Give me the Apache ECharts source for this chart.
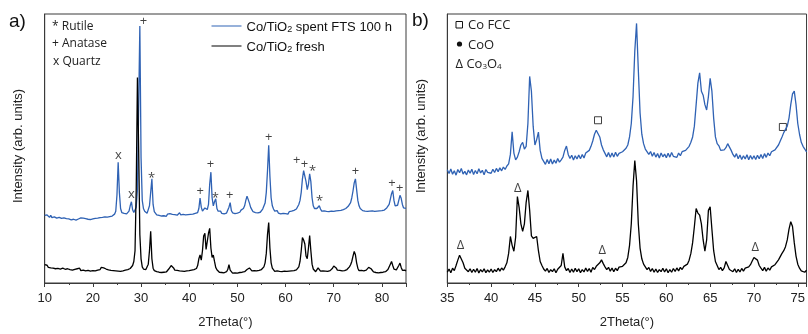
<!DOCTYPE html>
<html>
<head>
<meta charset="utf-8">
<script src="https://cdn.jsdelivr.net/npm/echarts@6/dist/echarts.min.js"></script>
<style>
html,body{margin:0;padding:0;background:#fff;}
#chart{width:808px;height:334px;}
</style>
</head>
<body>
<div id="chart"></div>
<script>
// ---- Panel a): full scan 10–85° (step 0.25°) ----
const startA = 10, stepA = 0.25;
// spent catalyst, intensity above its own baseline
const spentA = [
  0.4,-0.2,0.6,0.1,-0.3,0.5,-0.4,0.2,-0.1,0.3,-0.6,0.1,-0.3,0.2,-0.7,-0.1,-0.5,0.0,-0.8,-0.2,
  -0.9,-0.4,-1.2,-0.6,-1.0,-0.3,-1.3,-0.7,-0.9,-1.4,-0.5,-1.1,-0.6,-1.2,-0.8,-0.4,-1.0,-0.6,-1.1,-0.5,
  -0.9,-0.3,-0.7,-0.2,-0.6,0.0,-0.4,0.2,-0.3,0.3,-0.1,0.4,-0.2,0.3,0.0,0.5,0.2,0.6,0.9,2.0,
  8.0,20.2,9.0,3.0,1.5,0.8,1.2,0.6,1.0,1.3,2.0,4.0,5.5,2.5,1.5,2.0,3.5,10.0,40.0,70.8,
  22.0,6.0,3.0,2.0,1.5,1.2,1.8,4.0,9.0,14.0,4.5,1.8,1.2,0.6,1.0,0.4,0.8,0.2,0.7,0.3,
  0.6,0.1,0.9,1.6,1.1,0.4,0.8,0.2,0.7,1.2,0.5,0.9,1.4,0.6,0.3,0.8,0.2,0.6,0.1,0.7,
  0.3,0.8,0.2,0.9,0.5,1.2,0.8,1.5,3.0,6.9,3.5,2.0,2.5,3.2,3.0,2.6,4.5,12.0,16.5,7.0,
  4.0,5.5,6.6,3.0,2.0,1.4,2.0,1.2,1.8,1.0,1.6,1.3,2.0,3.5,5.2,2.2,1.4,1.9,1.1,1.7,
  1.3,2.0,1.6,2.4,2.2,3.0,4.0,6.0,7.6,7.2,5.0,3.4,2.6,1.8,2.3,1.5,2.0,1.4,2.1,1.6,
  2.2,2.8,3.5,5.0,9.0,17.0,26.5,15.0,7.0,4.0,2.8,2.0,1.6,2.2,1.3,1.9,1.0,1.7,1.2,1.8,
  1.1,1.6,0.9,1.8,1.3,2.0,1.5,2.3,2.0,2.8,3.5,4.5,6.0,9.0,14.0,17.1,15.0,13.0,10.0,12.0,
  15.9,13.0,7.0,4.0,3.0,2.5,3.0,3.5,4.0,2.8,2.0,1.5,2.1,1.4,1.9,1.2,1.8,1.3,2.0,1.4,
  1.9,1.3,2.1,1.5,2.2,1.6,2.3,2.0,2.6,2.2,3.0,3.3,3.8,4.5,5.2,7.0,9.5,12.5,14.0,10.0,
  6.0,4.0,3.0,2.6,2.2,2.8,2.0,2.5,1.9,2.4,2.0,2.7,2.1,2.5,1.9,2.4,2.0,2.6,2.1,2.5,
  2.2,2.8,2.4,3.0,3.2,3.8,4.5,6.5,8.5,9.7,6.0,4.0,3.5,4.2,6.0,7.9,6.8,4.5,3.2,2.8,
  3.0
];
// fresh catalyst
const freshA = [
  6.8,6.1,6.6,5.8,6.4,5.6,6.2,5.5,6.0,5.3,5.9,5.4,6.1,5.2,5.8,5.5,6.0,5.1,5.7,5.3,
  5.6,5.0,5.5,4.8,5.4,5.1,4.7,5.3,4.9,5.5,4.6,5.2,4.8,5.0,4.5,5.1,4.7,5.2,4.4,4.9,
  4.6,5.0,4.5,5.1,4.8,5.4,5.0,5.8,5.3,5.6,4.9,5.2,4.6,4.9,4.3,4.7,4.2,4.6,4.0,4.5,
  3.9,4.4,3.8,4.3,4.0,4.5,4.1,4.8,4.4,5.0,4.7,5.4,5.8,6.5,8.0,12.0,35.0,76.4,50.0,18.0,
  9.0,6.0,5.2,4.8,5.0,5.6,7.0,12.0,19.2,9.0,5.5,4.6,4.9,4.2,4.7,4.0,4.5,3.9,4.4,4.0,
  4.5,4.1,4.8,5.2,5.8,6.5,6.8,5.6,4.8,4.3,4.7,4.0,4.5,3.9,4.4,3.8,4.3,3.9,4.5,4.0,
  4.6,4.2,4.8,4.4,5.0,4.7,5.4,6.5,9.0,10.4,8.5,12.0,17.5,18.5,12.5,13.0,18.5,20.3,13.0,9.5,
  10.4,8.0,5.8,4.9,4.4,4.0,4.5,3.9,4.3,3.8,4.4,4.2,5.0,6.8,4.8,4.1,3.7,4.3,3.8,4.2,
  3.7,4.3,3.9,4.4,4.0,4.6,4.2,4.8,5.0,5.4,5.6,5.0,4.5,4.1,4.6,4.0,4.5,4.1,4.7,4.4,
  5.0,5.4,6.0,7.5,11.0,18.0,22.5,13.0,7.5,5.5,4.8,4.3,4.0,4.5,3.8,4.3,3.7,4.2,3.8,4.4,
  3.9,4.3,3.8,4.4,4.0,4.5,4.1,4.6,4.3,4.9,5.2,6.0,8.0,12.0,16.9,16.0,14.5,10.0,9.0,13.0,
  17.6,12.0,7.0,5.2,4.6,4.2,4.8,5.6,5.0,4.4,4.0,4.5,3.9,4.4,3.8,4.3,4.0,4.6,4.8,5.5,
  6.3,6.8,5.6,4.8,4.3,4.7,4.1,4.5,4.0,4.6,4.4,5.0,5.3,6.0,6.8,8.0,10.0,11.7,10.5,7.5,
  5.5,4.6,4.2,4.7,4.1,4.5,4.3,4.8,5.2,5.8,6.0,5.3,4.6,4.1,4.5,3.9,4.4,3.8,4.3,3.9,
  4.4,4.0,4.5,4.2,4.8,5.0,5.6,7.0,8.0,6.5,5.2,4.6,4.9,5.3,6.5,7.4,5.8,4.7,4.3,4.8,
  4.5
];
const spentOffsetA = 24.7;

// ---- Panel b): detail 35–76° (step 0.2°) ----
const startB = 35, stepB = 0.2;
const spentB = [
  0.8,-0.6,1.1,-0.9,0.4,-1.2,0.9,-0.3,1.3,-0.8,0.2,-1.1,0.7,-0.5,1.0,-1.0,0.5,-0.7,1.2,-0.4,0.6,-1.1,0.9,-0.2,0.4,
  -0.5,1.0,-0.2,1.3,0.1,1.5,0.4,1.8,0.9,2.2,3.0,6.5,14.9,7.0,4.5,5.5,7.5,10.0,11.0,8.5,9.5,18.0,35.5,30.0,17.0,
  10.0,12.0,14.8,8.0,5.0,4.5,2.8,4.6,3.0,4.8,2.9,4.4,3.2,5.0,3.6,4.5,5.5,8.0,9.6,6.5,5.0,6.2,4.4,6.0,4.8,
  6.3,4.9,6.5,5.2,7.0,6.4,8.0,9.5,11.5,14.0,15.5,16.2,13.0,10.0,8.2,7.5,5.6,7.2,5.4,7.0,5.5,7.3,5.8,6.9,6.2,
  7.5,7.0,8.8,10.0,13.0,18.0,28.0,45.0,55.2,38.0,22.0,14.0,10.5,8.5,7.8,6.5,7.6,5.8,7.2,5.5,6.8,5.2,7.0,5.6,6.6,
  5.3,6.9,5.5,7.2,5.8,6.5,5.4,7.0,6.0,7.5,6.8,8.0,8.5,9.5,11.0,13.0,17.0,25.0,33.0,36.8,30.0,28.5,25.0,23.0,28.0,
  34.8,30.0,20.0,13.0,10.5,9.7,8.0,7.5,8.2,9.0,10.5,11.0,8.0,6.5,5.5,6.8,4.9,6.3,4.6,6.0,4.8,6.4,4.5,6.1,4.7,
  6.0,4.6,6.2,4.9,6.5,5.0,6.8,5.4,7.0,6.0,7.5,7.0,8.2,8.6,10.0,11.5,13.0,14.6,15.0,17.0,20.0,25.0,29.0,30.0,25.0,
  18.0,14.0,11.0,9.5,8.5,7.4
];
const freshB = [
  4.0,5.2,3.8,5.5,4.6,6.5,8.5,10.3,10.0,7.5,5.5,5.8,4.2,5.3,3.9,5.1,4.0,5.4,3.7,5.0,4.1,5.3,3.8,4.9,4.0,
  5.2,3.9,5.0,4.2,5.5,4.4,5.6,4.8,6.0,7.5,11.0,17.3,14.0,11.8,17.0,32.1,28.0,22.0,19.2,22.0,30.0,34.4,27.0,17.5,16.6,
  16.5,17.3,12.0,8.0,6.5,5.2,4.4,5.4,3.9,5.0,4.2,5.3,3.8,5.1,4.5,6.5,11.0,6.0,4.6,5.4,3.9,5.2,4.0,5.5,4.2,
  5.3,3.8,5.0,4.1,5.6,4.3,5.4,4.0,5.8,5.0,6.2,6.8,7.5,8.6,7.2,6.0,5.0,5.8,4.4,5.6,4.2,5.5,4.6,5.9,5.2,
  6.2,6.0,7.5,9.5,14.0,22.0,36.0,45.5,38.0,22.0,13.0,9.0,7.0,6.0,5.0,5.8,4.3,5.4,4.0,5.2,3.9,5.0,4.2,5.5,4.1,
  5.3,3.8,5.0,4.0,5.4,4.3,5.6,4.5,5.8,5.0,6.2,6.0,7.0,8.5,11.0,15.0,21.0,27.7,26.0,25.2,22.0,16.0,11.8,16.0,27.0,
  28.3,20.0,12.0,8.0,6.5,5.0,5.8,4.6,5.6,8.0,6.5,5.0,5.6,4.2,5.3,3.9,5.1,4.1,5.4,4.4,5.5,5.0,6.0,6.8,8.2,
  9.5,10.0,8.5,6.5,5.5,4.6,5.8,4.4,5.6,4.8,6.0,5.6,6.8,7.4,8.6,9.8,11.0,12.0,13.5,16.0,20.0,22.8,21.0,15.0,10.0,
  7.0,5.5,4.5,5.2,4.0,4.8
];
const spentOffsetB = 41.3;

// Phase labels [2θ, height]
const quartzA  = [[25.3, 47.6], [28.0, 32.8]];
const rutileA  = [[32.2, 40.0], [45.4, 32.6], [65.6, 42.5], [67.05, 31.4]];
const anataseA = [[30.5, 97.2], [42.3, 34.0], [44.4, 44.2], [48.4, 32.6], [56.5, 54.2],
                  [62.3, 45.5], [63.9, 44.3], [74.5, 41.4], [82.1, 36.9], [83.7, 35.3]];
const coFccB   = [[52.2, 60.5], [73.3, 58.0]];
const co3o4B   = [[36.5, 14.1], [43.05, 35.3], [52.7, 12.1], [70.15, 13.2]];

const xTicksA = {min: 10, max: 85, interval: 10};
const xTicksB = {min: 35, max: 76, interval: 5};

const nameSpent = 'Co/TiO2 spent FTS 100 h';
const nameFresh = 'Co/TiO2 fresh';

function toPairs(start, step, vals, offset) {
  return vals.map((v, i) => [+(start + i * step).toFixed(2), v + offset]);
}

const BLUE = '#2f62b4';
const AXIS = '#3a3a3a';
const SANS = '"Liberation Sans", Arial, sans-serif';
const OPEN = '"Open Sans", sans-serif';

function labelSeries(points, ch, xi, dy) {
  return {
    type: 'scatter', xAxisIndex: xi, yAxisIndex: xi,
    data: points, symbolSize: 1, silent: true,
    itemStyle: {color: 'rgba(0,0,0,0)'},
    label: {show: true, position: 'inside', formatter: ch, offset: [0, dy || 0],
            color: '#111', fontSize: 13, fontFamily: OPEN}
  };
}

function xAxisCfg(idx, t) {
  return {
    type: 'value', gridIndex: idx, min: t.min, max: t.max, interval: t.interval,
    name: '2Theta(°)', nameLocation: 'middle', nameGap: 33,
    nameTextStyle: {fontFamily: SANS, fontSize: 13, color: '#222'},
    axisLine: {show: true, onZero: false, lineStyle: {color: AXIS, width: 1}},
    axisTick: {show: true, length: 4, lineStyle: {color: AXIS}},
    minorTick: {show: true, splitNumber: 2, length: 2, lineStyle: {color: AXIS}},
    axisLabel: {fontFamily: SANS, fontSize: 13, color: '#222', margin: 9, showMaxLabel: false},
    splitLine: {show: false}
  };
}
function yAxisCfg(idx) {
  return {
    type: 'value', gridIndex: idx, min: 0, max: 100,
    axisLine: {show: true, lineStyle: {color: AXIS, width: 1}},
    axisTick: {show: false}, axisLabel: {show: false}, splitLine: {show: false}
  };
}

const subRich = {
  n: {fontFamily: SANS, fontSize: 13, color: '#111', lineHeight: 16, verticalAlign: 'bottom'},
  s: {fontFamily: SANS, fontSize: 9, color: '#111', lineHeight: 4, verticalAlign: 'bottom'}
};

const chart = echarts.init(document.getElementById('chart'), null, {renderer: 'canvas'});
chart.setOption({
  animation: false,
  backgroundColor: '#fff',
  grid: [
    {left: 44.7, top: 14, width: 361.3, height: 271, show: true, borderColor: AXIS, borderWidth: 1},
    {left: 447.3, top: 14, width: 361.6, height: 271, show: true, borderColor: AXIS, borderWidth: 1}
  ],
  xAxis: [xAxisCfg(0, xTicksA), xAxisCfg(1, xTicksB)],
  yAxis: [yAxisCfg(0), yAxisCfg(1)],
  legend: {
    left: 206.5, top: 16, orient: 'vertical', itemGap: 7,
    itemWidth: 30, itemHeight: 1, icon: 'rect',
    data: [nameSpent, nameFresh],
    formatter: function (n) {
      return n === nameSpent ? '{n|Co/TiO}{s|2}{n| spent FTS 100 h}' : '{n|Co/TiO}{s|2}{n| fresh}';
    },
    textStyle: {rich: subRich}
  },
  series: [
    {name: nameSpent, type: 'line', xAxisIndex: 0, yAxisIndex: 0, showSymbol: false,
     data: toPairs(startA, stepA, spentA, spentOffsetA), lineStyle: {color: BLUE, width: 1.3}, itemStyle: {color: BLUE}},
    {name: nameFresh, type: 'line', xAxisIndex: 0, yAxisIndex: 0, showSymbol: false,
     data: toPairs(startA, stepA, freshA, 0), lineStyle: {color: '#000', width: 1.3}, itemStyle: {color: '#000'}},
    {name: nameSpent, type: 'line', xAxisIndex: 1, yAxisIndex: 1, showSymbol: false,
     data: toPairs(startB, stepB, spentB, spentOffsetB), lineStyle: {color: BLUE, width: 1.3}, itemStyle: {color: BLUE}},
    {name: nameFresh, type: 'line', xAxisIndex: 1, yAxisIndex: 1, showSymbol: false,
     data: toPairs(startB, stepB, freshB, 0), lineStyle: {color: '#000', width: 1.3}, itemStyle: {color: '#000'}},
    labelSeries(quartzA, 'x', 0, 0),
    labelSeries(rutileA, '*', 0, 3),
    labelSeries(anataseA, '+', 0, 0),
    labelSeries(co3o4B, 'Δ', 1, 0),
    {type: 'scatter', xAxisIndex: 1, yAxisIndex: 1, data: coFccB, symbol: 'rect', symbolSize: 7, silent: true,
     itemStyle: {color: '#fff', borderColor: '#111', borderWidth: 1}}
  ],
  graphic: [
    {type: 'text', left: 9, top: 12, style: {text: 'a)', fontFamily: SANS, fontSize: 19, fill: '#111'}},
    {type: 'text', left: 412, top: 11, style: {text: 'b)', fontFamily: SANS, fontSize: 19, fill: '#111'}},
    {type: 'text', x: 18, y: 146, rotation: Math.PI / 2,
     style: {text: 'Intensity (arb. units)', fontFamily: SANS, fontSize: 13, fill: '#222', align: 'center', verticalAlign: 'middle'}},
    {type: 'text', x: 421, y: 136, rotation: Math.PI / 2,
     style: {text: 'Intensity (arb. units)', fontFamily: SANS, fontSize: 13, fill: '#222', align: 'center', verticalAlign: 'middle'}},
    {type: 'text', x: 52, y: 27, style: {text: '* Rutile', fontFamily: OPEN, fontSize: 12, fill: '#222', verticalAlign: 'middle'}},
    {type: 'text', x: 52, y: 44, style: {text: '+ Anatase', fontFamily: OPEN, fontSize: 12, fill: '#222', verticalAlign: 'middle'}},
    {type: 'text', x: 53, y: 62, style: {text: 'x Quartz', fontFamily: OPEN, fontSize: 12, fill: '#222', verticalAlign: 'middle'}},
    {type: 'rect', shape: {x: 456, y: 21.5, width: 6.5, height: 6.5}, style: {fill: '#fff', stroke: '#111', lineWidth: 1}},
    {type: 'text', x: 468, y: 25, style: {text: 'Co FCC', fontFamily: OPEN, fontSize: 13, fill: '#222', verticalAlign: 'middle'}},
    {type: 'circle', shape: {cx: 459.5, cy: 44, r: 2.6}, style: {fill: '#111'}},
    {type: 'text', x: 468, y: 45, style: {text: 'CoO', fontFamily: OPEN, fontSize: 13, fill: '#222', verticalAlign: 'middle'}},
    {type: 'text', x: 455.5, y: 63, style: {
      text: '{n|Δ Co}{s|3}{n|O}{s|4}', verticalAlign: 'middle',
      rich: {
        n: {fontFamily: OPEN, fontSize: 13, fill: '#222', lineHeight: 16, verticalAlign: 'bottom'},
        s: {fontFamily: OPEN, fontSize: 8, fill: '#222', lineHeight: 4, verticalAlign: 'bottom'}
      }}}
  ]
});
</script>
</body>
</html>
